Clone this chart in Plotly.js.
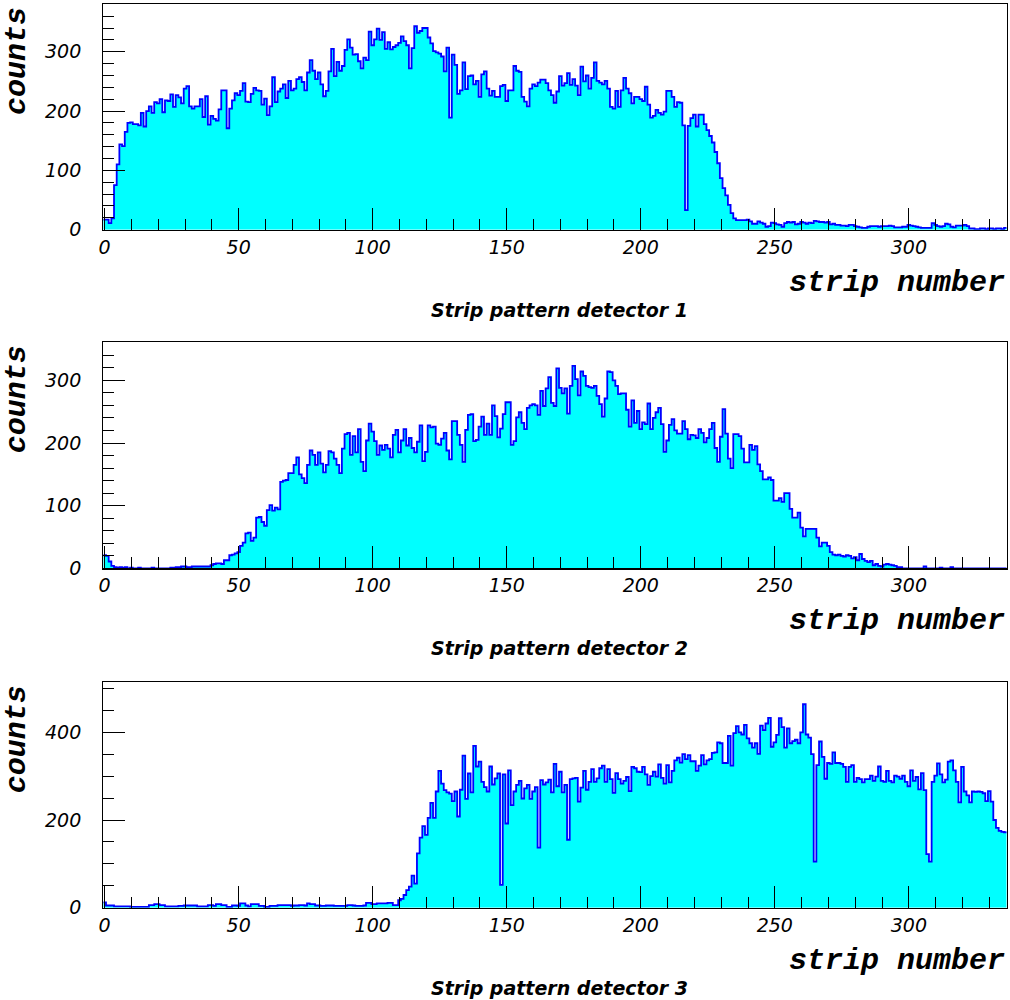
<!DOCTYPE html>
<html>
<head>
<meta charset="utf-8">
<script src="https://cdn.plot.ly/plotly-3.0.1.min.js"></script>
<style>html,body{margin:0;padding:0;background:#fff;}#chart{width:1010px;height:1000px;}</style>
</head>
<body>
<div id="chart"></div>
<script>
// strip numbers 0..336 (bin centres), counts per strip
const det1 = [
17,17,11,19,75,110,144,141,165,180,
181,178,178,176,197,174,200,208,197,215,
213,220,198,218,217,228,207,227,223,213,
238,242,208,204,208,208,220,190,225,177,
192,187,184,203,235,235,171,204,218,230,
227,234,247,216,215,229,239,235,234,211,
221,193,208,257,215,233,238,245,222,251,
235,238,254,257,249,235,265,286,268,254,
265,245,225,234,267,305,259,283,268,276,
303,321,307,295,296,284,272,290,286,334,
311,321,339,320,333,305,316,304,308,311,
315,326,318,311,272,306,343,332,335,340,
340,324,314,301,299,297,292,267,307,189,
295,278,229,235,282,237,259,260,245,251,
224,262,267,238,226,234,224,224,242,244,
217,235,235,276,268,266,224,216,208,238,
245,242,248,253,253,247,235,227,214,233,
259,243,247,264,244,254,243,227,275,250,
260,238,256,282,251,248,245,251,238,207,
204,234,207,235,256,238,230,213,224,224,
220,217,241,211,189,192,202,197,194,199,
234,234,224,207,215,214,176,33,175,188,
194,174,194,194,178,168,158,147,131,112,
87,70,58,42,28,19,16,16,16,16,
17,14,10,10,14,12,10,5,6,12,
11,9,8,5,11,13,12,13,9,10,
13,12,10,12,11,15,14,13,13,12,
13,9,10,8,8,7,7,6,8,8,
6,5,4,3,3,5,6,6,6,5,
6,6,6,7,6,4,4,4,5,5,
8,7,6,5,4,3,3,3,3,11,
8,6,5,6,10,9,5,4,7,7,
7,8,6,2,2,1,1,2,2,1,
2,2,1,2,2,1,3
];
const det2 = [
21,20,11,4,2,1,2,1,2,0,
1,0,0,1,0,0,0,0,1,0,
0,0,0,0,0,1,1,2,2,3,
3,2,2,3,3,3,3,3,3,3,
5,7,8,8,7,13,13,21,22,24,
26,36,41,56,57,44,49,81,82,74,
68,93,101,92,97,94,138,140,141,152,
152,165,177,150,144,136,165,188,181,165,
185,167,153,165,187,185,175,165,152,191,
214,216,181,211,185,222,170,155,204,231,
218,203,181,196,189,197,191,177,213,221,
185,204,222,196,208,192,185,202,228,171,
186,228,225,226,199,197,207,216,188,174,
235,235,213,197,170,221,245,246,203,205,
226,242,213,231,213,260,243,209,223,246,
265,265,197,203,241,249,232,222,256,260,
262,260,245,283,259,287,305,264,259,319,
288,279,287,247,291,323,302,276,314,307,
291,289,288,291,275,262,242,271,314,313,
300,291,278,279,279,253,226,268,232,251,
222,233,230,263,222,240,249,256,230,186,
204,229,238,220,215,215,235,222,206,213,
212,208,222,216,201,208,222,232,192,170,
210,254,215,175,160,214,214,211,191,169,
169,197,189,195,166,155,142,142,145,141,
108,108,112,106,120,120,95,81,81,89,
65,51,63,63,63,63,49,35,41,41,
36,26,22,21,22,20,19,21,20,16,
18,13,23,15,12,10,12,5,7,4,
3,6,7,6,5,4,2,2,0,0,
0,0,0,0,0,0,3,0,0,0,
0,0,1,0,0,0,2,0,0,0,
0,0,0,0,0,0,0,0,0,0,
0,0,0,0,0,0,0
];
const det3 = [
12,5,5,5,3,3,3,3,3,3,
2,2,2,2,2,2,2,6,6,8,
8,6,6,3,3,3,3,3,4,4,
5,5,5,5,5,3,3,3,3,6,
6,4,8,8,6,6,2,2,5,5,
4,10,10,5,3,8,8,8,4,4,
2,2,4,4,4,6,6,6,6,6,
4,5,5,6,6,5,10,8,8,5,
5,4,4,5,5,5,4,4,4,4,
4,6,6,5,4,4,4,5,11,11,
8,8,10,10,10,10,11,11,6,6,
17,20,29,40,48,73,55,124,160,186,
166,205,239,205,265,312,283,268,263,260,
243,265,208,269,347,248,306,263,369,322,
333,287,275,265,322,281,295,306,52,304,
192,313,234,265,280,289,249,272,280,248,
265,275,137,291,281,286,292,263,328,277,
310,263,280,155,293,295,296,242,274,312,
269,287,316,287,295,318,324,287,316,293,
262,307,293,283,289,298,266,321,318,310,
309,321,304,280,300,310,299,327,296,283,
325,286,312,336,342,331,350,339,348,334,
334,312,324,348,327,336,339,353,354,377,
375,330,330,392,324,398,414,400,395,417,
386,375,365,375,351,415,405,420,433,367,
377,394,432,412,365,409,375,380,383,375,
400,464,395,388,350,105,325,379,344,294,
330,328,354,330,330,328,321,287,321,325,
287,296,293,286,293,293,301,289,299,322,
289,287,312,289,286,301,299,294,301,287,
277,313,289,298,270,307,268,122,105,287,
301,329,304,286,292,333,336,313,287,240,
321,265,256,240,265,264,265,264,261,243,
266,242,200,182,175,173,172
];
const titles = ["Strip pattern detector 1", "Strip pattern detector 2", "Strip pattern detector 3"];
const xTitle = "strip number";
const yTitle = "counts";

function histTrace(vals, xa, ya) {
  const xs = vals.map((v, i) => i - 0.5);
  xs.push(vals.length - 0.5);
  const ys = vals.slice();
  ys.push(vals[vals.length - 1]);
  return {
    type: 'scatter', mode: 'lines', x: xs, y: ys, xaxis: xa, yaxis: ya,
    line: {shape: 'hv', color: '#0000ff', width: 1.8},
    fill: 'tozeroy', fillcolor: '#00ffff', hoverinfo: 'skip', showlegend: false
  };
}

const tickFont = {family: 'DejaVu Sans', size: 19, style: 'italic', color: '#000'};
const W = 1010, H = 1000;
const xDom = [103.3 / W, 1006.7 / W];
function xAxis(anchor) {
  return {
    domain: xDom, anchor: anchor, range: [-0.5, 336.5], tick0: 0, dtick: 50,
    ticks: 'inside', ticklen: 22, tickwidth: 1, tickcolor: '#000',
    showline: true, linecolor: '#000', linewidth: 1.2, mirror: true,
    showgrid: false, zeroline: false, tickfont: tickFont,
    minor: {dtick: 10, ticklen: 11, ticks: 'inside', tickcolor: '#000', tickwidth: 1, showgrid: false},
    fixedrange: true
  };
}
function yAxis(anchor, top, bot, ymax, dt, mdt) {
  return {
    domain: [1 - bot / H, 1 - top / H], anchor: anchor, range: [0, ymax], tick0: 0, dtick: dt,
    ticks: 'inside', ticklen: 22, tickwidth: 1, tickcolor: '#000',
    showline: true, linecolor: '#000', linewidth: 1.2, mirror: true,
    showgrid: false, zeroline: false, tickfont: tickFont, ticklabelstandoff: 17,
    minor: {dtick: mdt, ticklen: 11, ticks: 'inside', tickcolor: '#000', tickwidth: 1, showgrid: false},
    fixedrange: true
  };
}

const panels = [
  {top: 4, bot: 229.7},
  {top: 342.3, bot: 568.4},
  {top: 682.3, bot: 907.7}
];

const annotations = [];
const monoFont = {family: 'Liberation Mono', size: 30, weight: 'bold', style: 'italic', color: '#000'};
const titleFont = {family: 'DejaVu Sans', size: 19, weight: 'bold', style: 'italic', color: '#000'};
panels.forEach((p, k) => {
  annotations.push({xref: 'paper', yref: 'paper', x: 17 / W, y: 1 - (p.top + 1) / H, xanchor: 'center', yanchor: 'top',
    text: yTitle, textangle: -90, showarrow: false, font: monoFont});
  annotations.push({xref: 'paper', yref: 'paper', x: 1007 / W, y: 1 - (p.bot + 53) / H, xanchor: 'right', yanchor: 'middle',
    text: xTitle, showarrow: false, font: monoFont});
  annotations.push({xref: 'paper', yref: 'paper', x: 559 / W, y: 1 - (p.bot + 80) / H, xanchor: 'center', yanchor: 'middle',
    text: titles[k], showarrow: false, font: titleFont});
});

const data = [histTrace(det1, 'x', 'y'), histTrace(det2, 'x2', 'y2'), histTrace(det3, 'x3', 'y3')];
const layout = {
  width: W, height: H, margin: {l: 0, r: 0, t: 0, b: 0},
  paper_bgcolor: '#fff', plot_bgcolor: '#fff', showlegend: false,
  xaxis: xAxis('y'), xaxis2: xAxis('y2'), xaxis3: xAxis('y3'),
  yaxis: yAxis('x', panels[0].top, panels[0].bot, 380.5, 100, 20),
  yaxis2: yAxis('x2', panels[1].top, panels[1].bot, 360.6, 100, 20),
  yaxis3: yAxis('x3', panels[2].top, panels[2].bot, 514, 200, 50),
  annotations: annotations
};
Plotly.newPlot('chart', data, layout, {staticPlot: true, displayModeBar: false});
</script>
</body>
</html>
